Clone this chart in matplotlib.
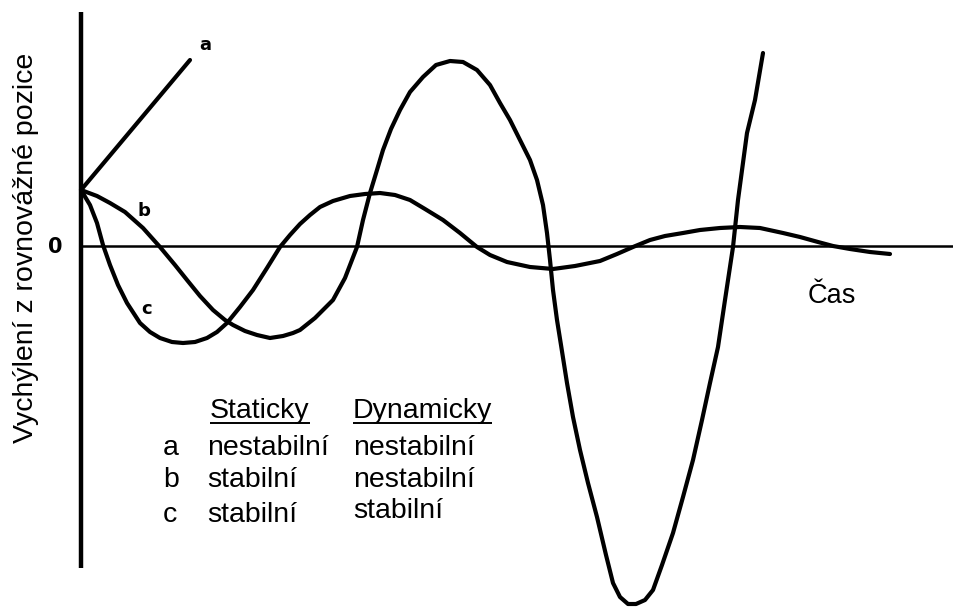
import matplotlib
matplotlib.use("Agg")
import matplotlib.pyplot as plt

plt.rcParams['font.family'] = ['Liberation Sans', 'DejaVu Sans']

# ---- data (time, displacement) ----
a_t = [0, 109]
a_d = [56, 186]

b_t = [0, 16, 29, 44, 62, 79, 94, 106, 119, 132, 144, 152, 164, 176, 189, 202, 212,
       219, 234, 252, 264, 276, 282, 289, 296, 302, 310, 319, 329, 342, 355, 369, 382, 396, 409,
       419, 429, 439, 449, 456, 462, 466, 469, 472, 476, 480, 486, 492, 499, 507, 516,
       525, 532, 539, 547, 555, 564, 572, 581, 592, 602, 612, 621, 629, 637, 644, 652,
       657, 666, 674, 682]
b_d = [56, 50, 43, 34, 18, -1, -19, -34, -50, -64, -74, -79, -85, -89, -92, -90, -87,
       -84, -72, -54, -32, -1, 26, 53, 76, 96, 117, 136, 154, 169, 181, 185, 184, 176, 161,
       143, 126, 106, 86, 66, 41, 13, -14, -44, -74, -99, -137, -171, -204, -237, -271,
       -309, -337, -351, -358, -358, -354, -344, -319, -287, -251, -214, -174, -137, -101, -54, -1,
       46, 113, 146, 193]

c_t = [0, 9, 16, 22, 29, 37, 46, 59, 69, 79, 91, 102, 114, 126, 136, 146, 159, 172,
       186, 199, 209, 219, 229, 239, 252, 269, 284, 299, 314, 329, 344, 362, 379, 396,
       409, 426, 449, 472, 494, 519, 536, 552, 569, 584, 602, 619, 639, 659, 679, 702,
       719, 737, 752, 769, 789, 809]
c_d = [56, 41, 23, 1, -19, -39, -57, -77, -86, -92, -96, -97, -96, -92, -86, -77, -61, -44,
       -22, -1, 11, 22, 31, 39, 45, 50, 52, 53, 51, 46, 37, 26, 13, -1,
       -9, -16, -21, -23, -20, -15, -8, -1, 6, 10, 13, 16, 18, 19, 18, 13,
       9, 4, 0, -3, -6, -8]

curve_labels = ['a', 'b', 'c']
col_headers = ['Staticky', 'Dynamicky']
static_status = ['nestabilní', 'stabilní', 'stabilní']
dynamic_status = ['nestabilní', 'nestabilní', 'stabilní']
y_label = 'Vychýlení z rovnovážné pozice'
x_label = 'Čas'

# ---- figure ----
fig = plt.figure(figsize=(9.54, 6.08), dpi=100)
ax = fig.add_axes([0, 0, 1, 1])
ax.set_xlim(-81, 873)
ax.set_ylim(-362, 246)
ax.axis('off')

# axes lines
ax.plot([0, 0], [-322, 234], color='black', lw=3.2, solid_capstyle='butt')
ax.plot([0, 873], [0, 0], color='black', lw=1.8, solid_capstyle='butt')

lw = 3.0
for t, d in [(a_t, a_d), (b_t, b_d), (c_t, c_d)]:
    ax.plot(t, d, color='black', lw=lw, solid_capstyle='round', solid_joinstyle='round')

# curve labels
lab_kw = dict(fontsize=13, fontweight='heavy', ha='center', va='center',
              family=['DejaVu Sans'])
ax.text(124, 201, 'a', **lab_kw)
ax.text(63, 35, 'b', **lab_kw)
ax.text(66, -63, 'c', **lab_kw)

# zero label
ax.text(-26, -1, '0', fontsize=15, fontweight='bold', ha='center', va='center',
        family=['DejaVu Sans'])

# axis labels
ax.text(-55, -2, y_label, fontsize=20.5, rotation=90, ha='center', va='center')
ax.text(727, -57, x_label, fontsize=19.5, ha='left', va='baseline')

# table
fs = 20.5
hdr1 = ax.text(129, -172, col_headers[0], fontsize=fs, ha='left', va='baseline')
hdr2 = ax.text(272, -172, col_headers[1], fontsize=fs, ha='left', va='baseline')
row_base_s = [-209, -241, -276]
row_base_d = [-209, -241, -272]
for i, lab in enumerate(curve_labels):
    ax.text(82, row_base_s[i], lab, fontsize=fs, ha='left', va='baseline')
    ax.text(126, row_base_s[i], static_status[i], fontsize=fs, ha='left', va='baseline')
    ax.text(272, row_base_d[i], dynamic_status[i], fontsize=fs, ha='left', va='baseline')

# underline headers
fig.canvas.draw()
r = fig.canvas.get_renderer()
inv = ax.transData.inverted()
for h in (hdr1, hdr2):
    bb = h.get_window_extent(renderer=r)
    x0, _ = inv.transform((bb.x0, bb.y0))
    x1, _ = inv.transform((bb.x1, bb.y0))
    ax.plot([x0, x1], [-177, -177], color='black', lw=1.4, solid_capstyle='butt')

fig.savefig('out.png', dpi=100)
